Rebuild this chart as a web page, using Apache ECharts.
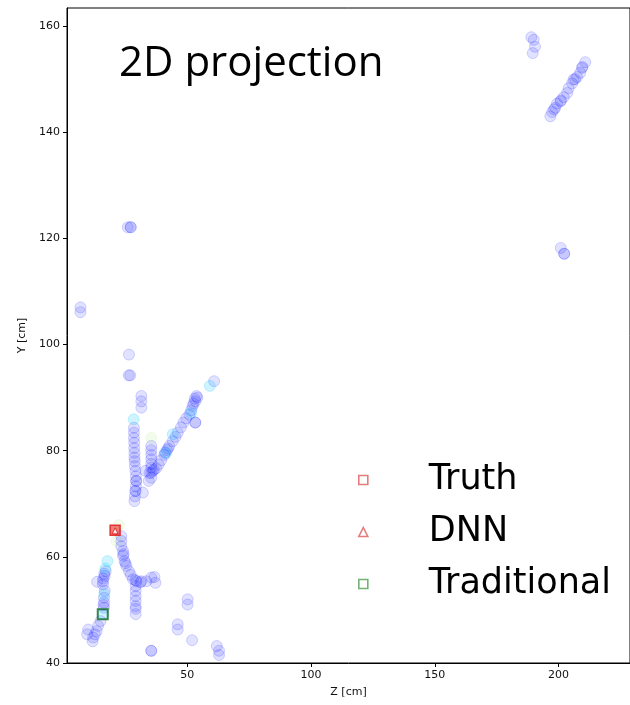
<!DOCTYPE html>
<html>
<head>
<meta charset="utf-8">
<script src="https://cdn.jsdelivr.net/npm/echarts@6/dist/echarts.min.js"></script>
<style>
  html, body { margin: 0; padding: 0; background: #fff; }
  #chart { width: 630px; height: 705px; }
</style>
</head>
<body>
<div id="chart"></div>
<script>
// Detector hits projected on the Z–Y plane, [Z cm, Y cm]
const blueHits = [
  // upper-right track
  [189.0,157.9],[190.0,157.4],[190.5,156.1],[189.6,154.9],
  [210.8,153.2],[209.5,152.1],[208.8,151.2],[207.5,150.4],[206.1,149.9],[205.5,149.2],
  [204.1,148.3],[203.5,147.4],[202.1,146.6],[200.8,145.8],[199.4,145.4],[198.7,144.6],
  [197.4,143.8],[196.7,143.0],[201.0,146.0],[206.7,150.0],[209.7,152.3],[198.2,144.3],
  [200.9,118.2],[202.3,117.1],[202.3,117.1],
  // scattered hits
  [25.9,122.1],[27.1,122.1],[27.1,122.1],
  [6.8,107.0],[6.8,106.1],
  [26.4,98.1],
  [26.9,94.2],[26.3,94.2],
  [60.8,93.1],
  [31.4,90.3],[31.4,89.3],[31.4,88.1],
  // upper diagonal track
  [53.7,90.3],[53.2,89.3],[52.1,88.4],[51.5,87.6],[50.8,86.8],[49.5,86.1],[48.4,85.3],
  [47.4,84.4],[46.1,83.4],[45.2,82.6],[44.1,81.8],[42.7,80.9],[41.7,80.1],[40.7,79.2],
  [39.4,78.2],[38.4,77.4],[37.4,76.7],[36.0,76.2],[34.7,75.8],
  [53.0,89.8],[52.5,88.9],[54.0,90.0],[42.2,80.4],[41.0,79.6],[36.5,76.4],
  [53.2,85.3],[53.2,85.3],
  // vertical column near Z = 28
  [28.4,84.3],[28.4,83.4],[28.4,82.4],[28.5,81.5],[28.5,80.5],[28.6,79.6],[28.6,78.7],
  [28.7,78.0],[28.8,77.1],[29.0,76.2],[29.2,75.2],[29.3,74.3],[29.2,73.3],[29.0,72.4],
  [28.8,71.4],[28.6,70.5],[29.3,74.3],[29.0,72.4],
  [32.0,72.1],
  // vertical column near Z = 35
  [35.4,80.9],[35.4,80.1],[35.4,79.2],[35.4,78.4],[35.4,77.5],[35.4,76.8],[35.4,75.8],[35.4,74.9],
  [33.1,76.2],[34.4,74.3],
  // lower track below the vertex
  [23.3,63.9],[23.3,63.0],[23.3,62.0],[24.0,61.1],[24.0,60.2],[24.6,59.2],[25.3,58.3],
  [26.4,57.3],[27.1,56.6],[28.0,55.8],[29.4,55.4],[31.4,55.4],[33.4,55.4],[35.4,56.1],
  [36.7,56.2],[37.1,55.1],[24.2,60.5],[25.0,58.8],[29.0,55.6],[31.0,55.2],
  [29.1,54.5],[29.1,53.6],[29.1,52.6],[29.1,51.7],[29.1,50.7],[29.1,50.2],[29.1,49.2],
  // lower-left track
  [17.0,57.3],[16.6,56.4],[15.9,55.4],[15.9,54.8],[13.5,55.3],[16.6,53.6],[16.3,52.3],
  [16.3,51.4],[16.3,50.4],[14.9,47.9],[13.9,47.0],[13.3,46.0],[12.6,45.4],[11.9,44.8],
  [11.7,44.1],[9.9,46.3],[9.5,45.4],[16.0,55.9],[16.4,56.8],[16.1,50.9],
  // bottom hits
  [35.4,42.3],[35.4,42.3],
  [46.1,47.3],[46.1,46.3],
  [50.1,52.0],[50.1,51.0],
  [51.9,44.3],
  [61.9,43.2],[62.8,42.3],[62.8,41.5]
];
const cyanHits = [
  [59.1,92.2],[51.5,87.1],[44.1,83.1],[41.4,79.6],[28.3,85.9],
  [17.7,59.2],[16.8,57.8],[15.9,49.2],[16.4,53.0]
];
const greenHits = [
  [22.4,66.0],[21.3,63.0],[35.4,82.4]
];
const truth = [[20.8, 65.0]];
const dnn = [[20.8, 64.9]];
const traditional = [[15.8, 49.2]];

const legendNames = ['Truth', 'DNN', 'Traditional'];

const chart = echarts.init(document.getElementById('chart'), null, { renderer: 'canvas' });

const axisText = { color: '#111', fontSize: 11, fontFamily: 'DejaVu Sans' };

chart.setOption({
  animation: false,
  backgroundColor: '#fff',
  title: {
    text: '2D projection',
    left: 119,
    top: 43,
    padding: 0,
    textStyle: { fontFamily: 'Open Sans', fontSize: 42, fontWeight: 'normal', color: '#000', lineHeight: 42 }
  },
  grid: {
    left: 67, top: 8, right: -3, bottom: 42,
    show: true, borderColor: '#000', borderWidth: 1, backgroundColor: 'transparent'
  },
  legend: {
    orient: 'vertical',
    left: 358,
    top: 460,
    padding: 0,
    itemWidth: 9,
    itemHeight: 9,
    itemGap: 12,
    selectedMode: false,
    textStyle: { fontFamily: 'DejaVu Sans', fontSize: 35, color: '#000', lineHeight: 40, padding: [0, 0, 0, 56] },
    data: [
      { name: legendNames[0], icon: 'rect', itemStyle: { color: 'rgba(0,0,0,0)', borderColor: '#e05a5a', borderWidth: 1.6 } },
      { name: legendNames[1], icon: 'triangle', itemStyle: { color: 'rgba(0,0,0,0)', borderColor: '#e05a5a', borderWidth: 1.6 } },
      { name: legendNames[2], icon: 'rect', itemStyle: { color: 'rgba(0,0,0,0)', borderColor: '#4fa04f', borderWidth: 1.6 } }
    ]
  },
  xAxis: {
    type: 'value',
    min: 1.35,
    max: 228.9,
    splitNumber: 5,
    name: 'Z [cm]',
    nameLocation: 'middle',
    nameGap: 24,
    nameTextStyle: axisText,
    axisLine: { lineStyle: { color: '#000' } },
    axisTick: { show: true, length: 4, lineStyle: { color: '#000' } },
    axisLabel: Object.assign({ margin: 7, showMinLabel: false, showMaxLabel: false }, axisText),
    splitLine: { show: false }
  },
  yAxis: {
    type: 'value',
    min: 40,
    max: 163.4,
    interval: 20,
    name: 'Y [cm]',
    nameLocation: 'middle',
    nameGap: 38,
    nameTextStyle: axisText,
    axisLine: { lineStyle: { color: '#000' } },
    axisTick: { show: true, length: 4, lineStyle: { color: '#000' } },
    axisLabel: Object.assign({ margin: 7, showMaxLabel: false }, axisText),
    splitLine: { show: false }
  },
  series: [
    {
      name: 'hits', type: 'scatter', data: blueHits, symbol: 'circle', symbolSize: 11,
      itemStyle: { color: 'rgba(20,30,255,0.16)', borderColor: 'rgba(20,30,255,0.22)', borderWidth: 1 },
      silent: true
    },
    {
      name: 'hits-cyan', type: 'scatter', data: cyanHits, symbol: 'circle', symbolSize: 11,
      itemStyle: { color: 'rgba(0,200,255,0.24)', borderColor: 'rgba(0,190,255,0.24)', borderWidth: 1 },
      silent: true
    },
    {
      name: 'hits-green', type: 'scatter', data: greenHits, symbol: 'circle', symbolSize: 11,
      itemStyle: { color: 'rgba(130,220,60,0.12)', borderColor: 'rgba(130,220,60,0.12)', borderWidth: 1 },
      silent: true
    },
    {
      name: 'Truth', type: 'scatter', data: truth, symbol: 'rect', symbolSize: 10, z: 5,
      itemStyle: { color: 'rgba(235,40,40,0.75)', borderColor: '#dd1111', borderWidth: 1.5 }
    },
    {
      name: 'DNN', type: 'scatter', data: dnn, symbol: 'triangle', symbolSize: 6, z: 6,
      itemStyle: { color: '#ffffff', borderColor: '#dd1111', borderWidth: 1 }
    },
    {
      name: 'Traditional', type: 'scatter', data: traditional, symbol: 'rect', symbolSize: 10, z: 5,
      itemStyle: { color: 'rgba(0,0,0,0)', borderColor: '#0b6b1e', borderWidth: 2 }
    }
  ]
});
</script>
</body>
</html>
